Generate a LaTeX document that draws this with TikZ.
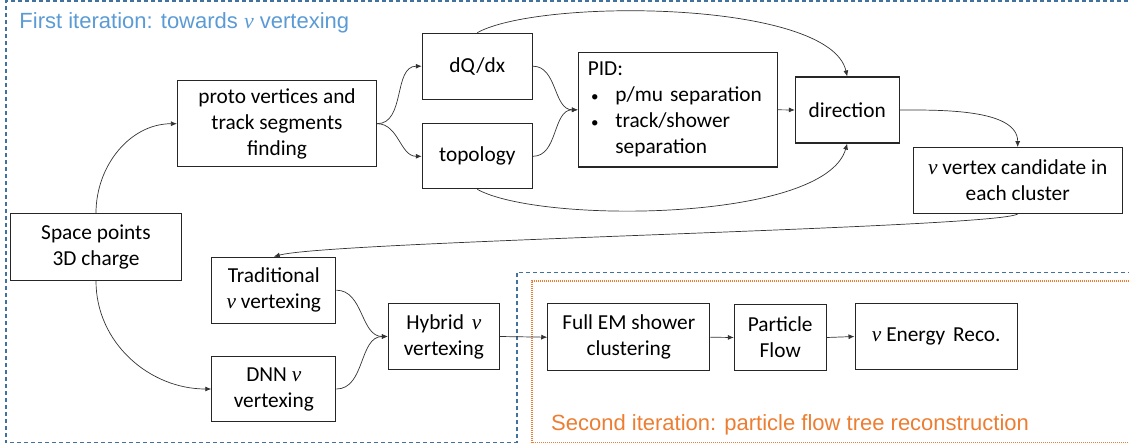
\documentclass[tikz,border=0pt]{standalone}
\usepackage{fontspec}
\setmainfont{Carlito}
\newfontfamily\arialfont{Liberation Sans}
\newfontfamily\nufont{Liberation Serif}
\usetikzlibrary{arrows.meta}
\definecolor{boxline}{HTML}{262626}
\definecolor{titleblue}{HTML}{5B9BD5}
\definecolor{dashblue}{HTML}{41719C}
\definecolor{orangeline}{HTML}{ED7D31}
\definecolor{arrline}{HTML}{333333}
\newcommand{\bxfont}{\fontsize{21.33}{26}\selectfont}
\newcommand{\ttlfont}{\arialfont\fontsize{22}{26}\selectfont}
\newcommand{\nuv}{{\nufont\itshape ν}}
\newcommand{\bul}{\hspace*{3.3pt}\makebox[24.3pt][l]{\fontsize{15}{15}\selectfont\textbullet}}
\begin{document}
\begin{tikzpicture}[x=1pt,y=-1pt,
  box/.style={draw=boxline, line width=1.1pt, inner sep=0pt, align=center, font=\bxfont},
  arr/.style={draw=arrline, line width=0.7pt, -{Latex[length=6pt,width=5pt]}},
  bluedash/.style={draw=dashblue, line width=1.3pt, dash pattern=on 4pt off 3pt},
  orangedot/.style={draw=orangeline, line width=1.2pt, dash pattern=on 1pt off 1pt},
  ttl/.style={anchor=base west, inner sep=0pt, font=\ttlfont}
]
\useasboundingbox (0,0) rectangle (1129,445);
\clip (0,0) rectangle (1129,445);

% regions
\draw[bluedash] (1135,1) -- (6,1) -- (6,442.7) -- (517,442.7) -- (517,272.3) -- (1135,272.3);
\draw[orangedot] (1135,281) -- (532,281) -- (532,442.7) -- (1135,442.7);
\node[ttl, text=titleblue] (t1) at (19.3,28.3) {First iteration: towards \nuv{} vertexing};
\node[ttl, text=orangeline] (t2) at (551,430) {Second iteration: particle flow tree reconstruction};

% boxes
\node[box, minimum width=171pt, minimum height=67pt] (sp) at (96,247) {Space points\\3D charge};
\node[box, minimum width=199pt, minimum height=86pt] (proto) at (277,123.7) {proto vertices and\\track segments\\finding};
\node[box, minimum width=110pt, minimum height=66pt] (dq) at (477.3,66.2) {dQ/dx};
\node[box, minimum width=110pt, minimum height=65pt] (topo) at (477.3,156.3) {topology};
\node[box, minimum width=198.7pt, minimum height=114.3pt, align=left, text width=179.9pt] (pid) at (677.7,109.8)
  {PID:\\\bul p/mu separation\\\bul track/shower\\\hspace*{27.6pt}separation};
\node[box, minimum width=103.7pt, minimum height=66pt] (dir) at (847.2,110) {direction};
\node[box, minimum width=208.7pt, minimum height=65.7pt] (nu) at (1017.7,180.5) {\nuv{} vertex candidate in\\each cluster};
\node[box, minimum width=124pt, minimum height=66pt] (trad) at (273.8,290.2) {Traditional\\\nuv{} vertexing};
\node[box, minimum width=124pt, minimum height=65pt] (dnn) at (273.8,389) {DNN \nuv\\vertexing};
\node[box, minimum width=111pt, minimum height=66pt] (hyb) at (443.8,336.5) {Hybrid\hspace{3pt} \nuv\\vertexing};
\node[box, minimum width=162pt, minimum height=67pt] (fem) at (628.8,337.2) {Full EM shower\\clustering};
\node[box, minimum width=91.7pt, minimum height=66pt] (pf) at (780.2,337.5) {Particle\\Flow};
\node[box, minimum width=162.3pt, minimum height=65.7pt] (ne) at (936.2,336.5) {\nuv{} Energy\hspace{3pt} Reco.};

% connectors
\draw[arr] (sp.north) to[out=90,in=180] (proto.west);
\draw[arr] (sp.south) to[out=-90,in=180] (dnn.west);
\draw[arr] (proto.east) to[out=0,in=180] (dq.west);
\draw[arr] (proto.east) to[out=0,in=180] (topo.west);
\draw[arr] (dq.east) to[out=0,in=180] (pid.west);
\draw[arr] (topo.east) to[out=0,in=180] (pid.west);
\draw[arr] (pid.east) -- (dir.west);
\draw[arr] (dq.north) .. controls (540,-2) and (830,0) .. (dir.north);
\draw[arr] (topo.south) .. controls (540,224) and (825,222) .. (dir.south);
\draw[arr] (dir.east) to[out=0,in=90,looseness=0.8] (nu.north);
\draw[arr] (nu.south) .. controls (1000,228) and (330,241) .. (trad.north);
\draw[arr] (trad.east) to[out=0,in=180] (hyb.west);
\draw[arr] (dnn.east) to[out=0,in=180] (hyb.west);
\draw[arr] (hyb.east) -- (fem.west);
\draw[arr] (fem.east) -- (pf.west);
\draw[arr] (pf.east) -- (ne.west);
\end{tikzpicture}
\end{document}
